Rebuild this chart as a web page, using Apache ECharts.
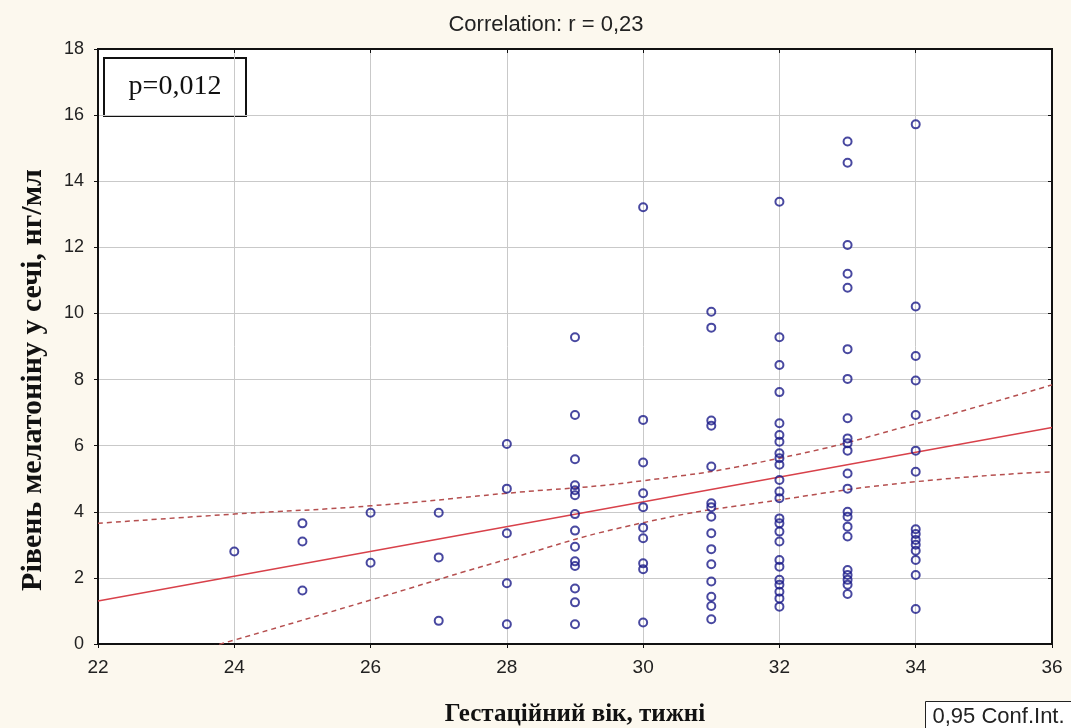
<!DOCTYPE html>
<html>
<head>
<meta charset="utf-8">
<script src="https://cdn.jsdelivr.net/npm/echarts@6/dist/echarts.min.js"></script>
<style>
  html, body { margin: 0; padding: 0; background: #fcf8ee; }
  #chart { width: 1071px; height: 728px; }
</style>
</head>
<body>
<div id="chart"></div>
<script>
// Gestational age (weeks) and urinary melatonin levels (ng/ml) measured at each week
const weeks = [24, 25, 26, 27, 28, 29, 30, 31, 32, 33, 34];
const levelsByWeek = [
  [2.8],
  [3.65, 3.1, 1.62],
  [3.97, 2.46],
  [3.97, 2.62, 0.7],
  [6.05, 4.7, 3.35, 1.84, 0.6],
  [9.28, 6.93, 5.59, 4.8, 4.65, 4.5, 3.93, 3.43, 2.94, 2.5, 2.36, 1.68, 1.26, 0.6],
  [13.21, 6.78, 5.49, 4.56, 4.14, 3.52, 3.2, 2.44, 2.26, 0.65],
  [10.05, 9.57, 6.76, 6.6, 5.37, 4.26, 4.14, 3.85, 3.35, 2.87, 2.41, 1.89, 1.43, 1.15, 0.75],
  [13.38, 9.28, 8.44, 7.62, 6.68, 6.32, 6.12, 5.77, 5.62, 5.42, 4.96, 4.61, 4.41, 3.8, 3.65, 3.4, 3.1, 2.54, 2.34, 1.94, 1.79, 1.58, 1.38, 1.13],
  [15.2, 14.56, 12.07, 11.2, 10.78, 8.92, 8.02, 6.83, 6.22, 6.07, 5.85, 5.16, 4.7, 4.0, 3.85, 3.55, 3.25, 2.24, 2.09, 1.94, 1.79, 1.51],
  [15.72, 10.21, 8.71, 7.97, 6.93, 5.85, 5.21, 3.47, 3.33, 3.15, 3.0, 2.82, 2.54, 2.09, 1.06]
];

// Fitted regression line and its 0.95 confidence band
const fitLine = [[22, 1.3], [36, 6.55]];
const bandX = [22, 24, 26, 28, 30, 32, 34, 36];
const bandUpper = [3.65, 3.93, 4.18, 4.56, 4.94, 5.62, 6.66, 7.84];
const bandLower = [-1.05, 0.12, 1.33, 2.56, 3.67, 4.36, 4.91, 5.21];

const xTicks = { min: 22, max: 36, interval: 2 };
const yTicks = { min: 0, max: 18, interval: 2 };

const points = [];
weeks.forEach((w, i) => levelsByWeek[i].forEach(v => points.push([w, v])));
const upperPts = bandX.map((x, i) => [x, bandUpper[i]]);
const lowerPts = bandX.map((x, i) => [x, bandLower[i]]);

const chart = echarts.init(document.getElementById('chart'));

const sans = 'Liberation Sans, Arial, sans-serif';
const serif = 'Liberation Serif, Times New Roman, serif';
const tickFont = { fontFamily: sans, color: '#222' };
const gridLine = { show: true, lineStyle: { color: '#c9c9c9', width: 1 } };
const frameLine = { show: true, onZero: false, lineStyle: { color: '#111', width: 2 } };

chart.setOption({
  backgroundColor: '#fcf8ee',
  animation: false,
  title: {
    text: 'Correlation: r = 0,23',
    left: 541, top: 9, textAlign: 'center',
    textStyle: { fontFamily: sans, fontSize: 22, fontWeight: 'normal', color: '#222' }
  },
  grid: {
    left: 98, right: 19, top: 49, bottom: 84,
    outerBoundsMode: 'none', containLabel: false,
    show: true, backgroundColor: '#ffffff', borderColor: '#111', borderWidth: 2
  },
  xAxis: [{
    type: 'value', position: 'bottom',
    min: xTicks.min, max: xTicks.max, interval: xTicks.interval,
    axisLine: frameLine,
    axisTick: { show: true, inside: false, length: 4, lineStyle: { color: '#111' } },
    axisLabel: Object.assign({ fontSize: 19, margin: 14 }, tickFont),
    splitLine: gridLine,
    name: 'Гестаційний вік, тижні',
    nameLocation: 'middle', nameGap: 58,
    nameTextStyle: { fontFamily: serif, fontWeight: 'bold', fontSize: 25, color: '#111' }
  }, {
    type: 'value', position: 'top',
    min: xTicks.min, max: xTicks.max, interval: xTicks.interval,
    axisLine: frameLine,
    axisTick: { show: true, inside: true, length: 4, lineStyle: { color: '#111' } },
    axisLabel: { show: false }, splitLine: { show: false }
  }],
  yAxis: [{
    type: 'value', position: 'left',
    min: yTicks.min, max: yTicks.max, interval: yTicks.interval,
    axisLine: frameLine,
    axisTick: { show: true, inside: false, length: 4, lineStyle: { color: '#111' } },
    axisLabel: Object.assign({ fontSize: 18, margin: 14 }, tickFont),
    splitLine: gridLine
  }, {
    type: 'value', position: 'right',
    min: yTicks.min, max: yTicks.max, interval: yTicks.interval,
    axisLine: frameLine,
    axisTick: { show: true, inside: true, length: 4, lineStyle: { color: '#111' } },
    axisLabel: { show: false }, splitLine: { show: false }
  }],
  series: [{
    type: 'line', data: upperPts, smooth: true, symbol: 'none', clip: true,
    lineStyle: { color: '#b54f4f', width: 1.5, type: [5, 4] }, z: 2
  }, {
    type: 'line', data: lowerPts, smooth: true, symbol: 'none', clip: true,
    lineStyle: { color: '#b54f4f', width: 1.5, type: [5, 4] }, z: 2
  }, {
    type: 'line', data: fitLine, symbol: 'none', clip: true,
    lineStyle: { color: '#d8414a', width: 1.5 }, z: 3
  }, {
    type: 'scatter', data: points, symbol: 'circle', symbolSize: 8,
    itemStyle: { color: 'rgba(0,0,0,0)', borderColor: '#1a1a88', borderWidth: 2 }, z: 4
  }],
  graphic: [{
    type: 'text', x: 33, y: 380, rotation: Math.PI / 2,
    style: { text: 'Рівень мелатоніну у сечі, нг/мл', fontFamily: serif, fontWeight: 'bold',
             fontSize: 30, fill: '#111', align: 'center', verticalAlign: 'middle' }
  }, {
    type: 'group', left: 103, top: 57,
    children: [{
      type: 'rect', shape: { x: 0, y: 0, width: 142, height: 58 },
      style: { fill: '#ffffff', stroke: '#111', lineWidth: 2 }
    }, {
      type: 'text', x: 71, y: 29,
      style: { text: 'p=0,012', fontFamily: serif, fontSize: 28,
               fill: '#111', align: 'center', verticalAlign: 'middle' }
    }]
  }, {
    type: 'group', left: 925, top: 701,
    children: [{
      type: 'rect', shape: { x: 0, y: 0, width: 150, height: 32 },
      style: { fill: '#ffffff', stroke: '#222', lineWidth: 1 }
    }, {
      type: 'text', x: 7, y: 15,
      style: { text: '0,95 Conf.Int.', fontFamily: sans, fontSize: 22,
               fill: '#222', align: 'left', verticalAlign: 'middle' }
    }]
  }]
});
</script>
</body>
</html>
